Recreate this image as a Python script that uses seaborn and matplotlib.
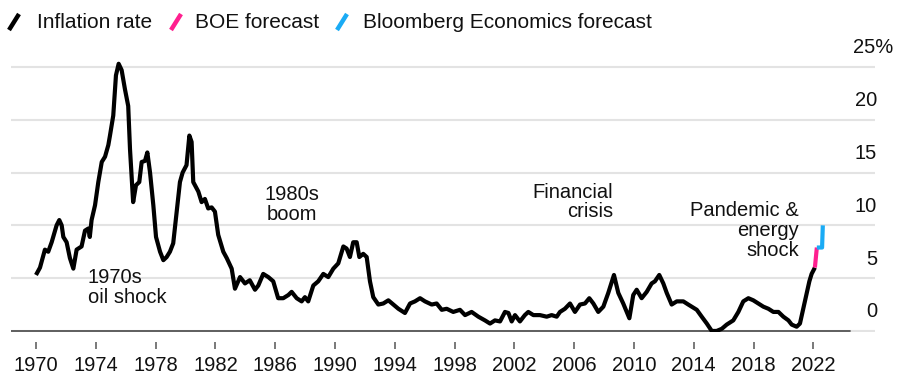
import matplotlib
matplotlib.use("Agg")
import matplotlib.pyplot as plt
from matplotlib.lines import Line2D
import matplotlib.transforms as mtransforms
import seaborn as sns
import pandas as pd

# UK consumer price inflation, % year on year (decimal years)
cpi_years = [
    1970.00, 1970.27, 1970.60, 1970.82, 1971.05, 1971.38, 1971.56, 1971.72, 1971.83,
    1972.05, 1972.27, 1972.50, 1972.72, 1973.05, 1973.28, 1973.50, 1973.60, 1973.72,
    1973.95, 1974.17, 1974.40, 1974.62, 1974.84, 1974.95, 1975.17, 1975.35, 1975.53,
    1975.73, 1975.95, 1976.17, 1976.29, 1976.50, 1976.69, 1976.91, 1977.07, 1977.29,
    1977.45, 1977.63, 1977.85, 1978.03, 1978.30, 1978.52, 1978.74, 1978.96, 1979.18,
    1979.41, 1979.63, 1979.81, 1980.07, 1980.26, 1980.41, 1980.52, 1980.86, 1981.08,
    1981.30, 1981.52, 1981.75, 1981.97, 1982.19, 1982.53, 1982.76, 1983.09, 1983.31,
    1983.65, 1983.98, 1984.30, 1984.65, 1984.87, 1985.20, 1985.54, 1985.87, 1986.20,
    1986.54, 1986.88, 1987.10, 1987.44, 1987.77, 1987.99, 1988.21, 1988.55, 1988.88,
    1989.22, 1989.55, 1989.89, 1990.22, 1990.56, 1990.78, 1991.00, 1991.22, 1991.45,
    1991.63, 1991.89, 1992.12, 1992.34, 1992.56, 1992.90, 1993.23, 1993.57, 1993.90,
    1994.24, 1994.68, 1995.02, 1995.35, 1995.69, 1996.02, 1996.47, 1996.80, 1997.14,
    1997.47, 1997.91, 1998.36, 1998.70, 1999.14, 1999.59, 2000.03, 2000.37, 2000.70,
    2001.04, 2001.37, 2001.60, 2001.82, 2002.04, 2002.37, 2002.70, 2002.93, 2003.27,
    2003.71, 2004.16, 2004.49, 2004.83, 2005.05, 2005.38, 2005.72, 2006.05, 2006.39,
    2006.72, 2007.01, 2007.28, 2007.61, 2007.95, 2008.28, 2008.66, 2008.95, 2009.28,
    2009.69, 2009.95, 2010.18, 2010.51, 2010.85, 2011.18, 2011.40, 2011.69, 2011.96,
    2012.19, 2012.52, 2012.86, 2013.30, 2013.63, 2014.20, 2014.53, 2014.87, 2015.20,
    2015.53, 2015.87, 2016.20, 2016.64, 2016.98, 2017.31, 2017.65, 2017.98, 2018.32,
    2018.65, 2018.99, 2019.32, 2019.66, 2019.99, 2020.33, 2020.55, 2020.88, 2021.10,
    2021.32, 2021.55, 2021.73, 2021.88, 2022.10,
]
cpi_values = [
    5.3, 6.0, 7.7, 7.5, 8.4, 10.0, 10.5, 10.0, 8.9,
    8.4, 6.9, 5.9, 7.7, 8.0, 9.5, 9.7, 8.9, 10.5,
    11.9, 14.1, 16.0, 16.5, 17.6, 18.5, 20.4, 24.2, 25.3,
    24.7, 22.9, 21.3, 17.2, 12.2, 13.8, 14.1, 16.0, 16.1,
    16.9, 15.0, 11.9, 8.9, 7.5, 6.7, 7.0, 7.5, 8.3,
    11.3, 14.1, 15.0, 15.7, 18.5, 17.9, 14.1, 13.2, 12.2,
    12.5, 11.6, 11.7, 11.3, 9.1, 7.5, 6.9, 5.9, 4.0,
    5.1, 4.5, 4.8, 3.9, 4.3, 5.4, 5.1, 4.7, 3.1,
    3.1, 3.4, 3.7, 3.1, 2.8, 3.2, 2.8, 4.3, 4.7,
    5.4, 5.1, 5.9, 6.4, 8.0, 7.8, 7.0, 8.4, 8.4,
    7.0, 7.3, 7.0, 4.7, 3.2, 2.5, 2.6, 2.9, 2.5,
    2.1, 1.7, 2.6, 2.8, 3.1, 2.8, 2.5, 2.6, 2.0,
    2.1, 1.8, 2.0, 1.5, 1.8, 1.35, 1.0, 0.7, 1.0,
    0.9, 1.8, 1.7, 0.9, 1.5, 0.9, 1.5, 1.8, 1.5,
    1.5, 1.35, 1.5, 1.35, 1.8, 2.1, 2.6, 1.8, 2.5,
    2.6, 3.1, 2.6, 1.8, 2.3, 3.6, 5.3, 3.6, 2.6,
    1.2, 3.4, 3.9, 3.1, 3.7, 4.5, 4.7, 5.3, 4.5,
    3.6, 2.5, 2.8, 2.8, 2.5, 2.0, 1.35, 0.7, 0.0,
    0.0, 0.2, 0.6, 1.0, 1.8, 2.8, 3.1, 2.9, 2.6,
    2.3, 2.1, 1.8, 1.8, 1.35, 1.0, 0.6, 0.4, 0.7,
    2.1, 3.6, 4.7, 5.4, 6.0,
]

boe_years = [2022.10, 2022.23]
boe_values = [6.0, 7.9]

bbg_years = [2022.23, 2022.58, 2022.63]
bbg_values = [7.9, 7.9, 10.0]

series_names = ["Inflation rate", "BOE forecast", "Bloomberg Economics forecast"]
series_colors = ["#000000", "#ff1f8f", "#1aabf5"]

x_ticks = list(range(1970, 2023, 4))
y_grid = [0, 5, 10, 15, 20, 25]
y_labels = ["0", "5", "10", "15", "20", "25%"]

annotations = [
    ("1970s\noil shock", 1973.48, 4.1, "left"),
    ("1980s\nboom", 1987.12, 12.0, "center"),
    ("Financial\ncrisis", 2008.6, 12.2, "right"),
    ("Pandemic &\nenergy\nshock", 2021.04, 9.5, "right"),
]

FS = 14.5

sns.set_theme(style="white")
plt.rcParams["font.family"] = ["Liberation Sans", "DejaVu Sans"]

W, H = 904, 378
fig = plt.figure(figsize=(W / 100, H / 100), dpi=100)
ax = fig.add_axes([11 / W, 46 / H, 864 / W, 292 / H])

frames = [
    pd.DataFrame({"year": cpi_years, "value": cpi_values}),
    pd.DataFrame({"year": boe_years, "value": boe_values}),
    pd.DataFrame({"year": bbg_years, "value": bbg_values}),
]
for df, color in zip(frames, series_colors):
    sns.lineplot(data=df, x="year", y="value", ax=ax, color=color, lw=3.0,
                 estimator=None, sort=False, solid_joinstyle="round",
                 solid_capstyle="butt", zorder=4)

ax.set_xlim(1968.33, 2026.12)
ax.set_ylim(-0.1, 27.55)
ax.set_xlabel("")
ax.set_ylabel("")

for side in ["left", "right", "top", "bottom"]:
    ax.spines[side].set_visible(False)
ax.spines["bottom"].set_position(("outward", 7))

ax.set_yticks(y_grid)
ax.yaxis.grid(True, color="#e3e3e3", lw=1.5)
ax.xaxis.grid(False)
ax.tick_params(axis="y", left=False, labelleft=False)
ax.set_xticks(x_ticks)
ax.set_xticklabels([str(t) for t in x_ticks])
ax.tick_params(axis="x", bottom=True, length=5, width=1.1, color="#555555",
               pad=5, labelsize=FS, labelcolor="#111111")

# baseline
ax.axhline(0, xmin=0, xmax=0.971, color="#555555", lw=1.3, zorder=2)

# value labels sitting above their gridlines
ytrans = mtransforms.blended_transform_factory(ax.transAxes, ax.transData)
for v, lab in zip(y_grid, y_labels):
    if lab.endswith("%"):
        ax.text(0.9745, v + 1.8, lab, transform=ytrans, ha="left", va="center",
                fontsize=FS, color="#111111")
    else:
        ax.text(1.0023, v + 1.8, lab, transform=ytrans, ha="right", va="center",
                fontsize=FS, color="#111111")

for text, x, y, ha in annotations:
    ax.text(x, y, text, ha=ha, va="center", multialignment=ha,
            fontsize=FS, color="#111111", linespacing=1.05, zorder=5)

# legend row
def px(x, y):
    return x / W, 1 - y / H

legend_items = [(9, 37), (171, 195), (337, 363)]
for (sx, tx), name, color in zip(legend_items, series_names, series_colors):
    (x0, y0), (x1, y1) = px(sx, 30), px(sx + 10, 14)
    fig.add_artist(Line2D([x0, x1], [y0, y1], transform=fig.transFigure,
                          color=color, lw=3.2, solid_capstyle="butt"))
    fx, fy = px(tx, 22)
    fig.text(fx, fy, name, ha="left", va="center", fontsize=FS + 0.5,
             color="#111111")

fig.savefig("out.png", dpi=100)
